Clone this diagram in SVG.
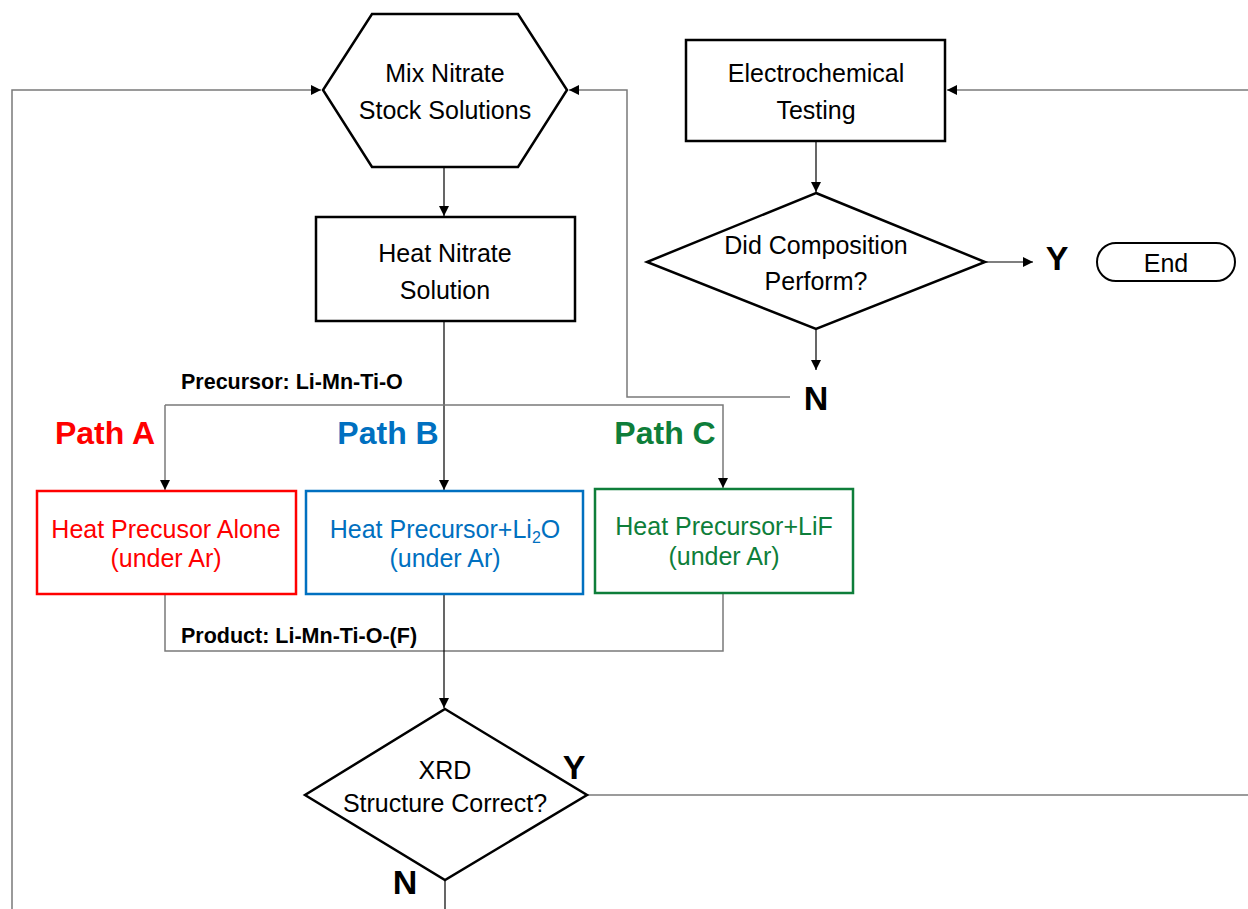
<svg xmlns="http://www.w3.org/2000/svg" width="1248" height="909" viewBox="0 0 1248 909">
<style>
text{font-family:"Liberation Sans",Arial,sans-serif;text-anchor:middle}
.t{font-size:25px;fill:#000}
.shape{fill:#fff;stroke:#000;stroke-width:2.5}
.lbl{font-size:21.5px;font-weight:bold;text-anchor:start}
.path{font-size:32px;font-weight:bold}
.yn{font-size:34px;font-weight:bold}
.c{fill:none;stroke:#000;stroke-width:1.2}
.g{fill:none;stroke:#7a7a7a;stroke-width:1.5}
</style>
<defs>
<marker id="ah" viewBox="0 0 10 10" refX="10" refY="5" markerWidth="10" markerHeight="10" markerUnits="userSpaceOnUse" orient="auto">
<path d="M0,0 L10,5 L0,10 Z" fill="#000"/>
</marker>
</defs>
<g id="connectors">
<polyline class="g" points="12,909 12,90 321,90" marker-end="url(#ah)"/>
<polyline class="g" points="790,397 627,397 627,90 569,90" marker-end="url(#ah)"/>
<line class="c" x1="444" y1="167" x2="444" y2="216" marker-end="url(#ah)"/>
<line class="c" x1="444" y1="321" x2="444" y2="490" marker-end="url(#ah)"/>
<polyline class="g" points="165,405 723,405 723,488" marker-end="url(#ah)"/>
<line class="g" x1="165" y1="405" x2="165" y2="490" marker-end="url(#ah)"/>
<polyline class="g" points="165,594 165,651 723,651 723,593"/>
<line class="c" x1="444" y1="594" x2="444" y2="708" marker-end="url(#ah)"/>
<line class="g" x1="587" y1="795" x2="1248" y2="795"/>
<line class="c" x1="445" y1="880" x2="445" y2="909"/>
<line class="g" x1="1248" y1="90" x2="947" y2="90" marker-end="url(#ah)"/>
<line class="c" x1="816" y1="141" x2="816" y2="192" marker-end="url(#ah)"/>
<line class="c" x1="985" y1="262" x2="1033" y2="262" marker-end="url(#ah)"/>
<line class="c" x1="816" y1="329" x2="816" y2="370" marker-end="url(#ah)"/>
<text class="lbl" x="181" y="389">Precursor: Li-Mn-Ti-O</text>
<text class="lbl" x="181" y="643">Product: Li-Mn-Ti-O-(F)</text>
</g>
<g id="mix">
<polygon class="shape" points="372,14 518,14 567,90 518,167 372,167 323,90"/>
<text class="t" x="445" y="82">Mix Nitrate</text>
<text class="t" x="445" y="119">Stock Solutions</text>
</g>
<g id="heat-nitrate">
<rect class="shape" x="316" y="217" width="259" height="104"/>
<text class="t" x="445" y="262">Heat Nitrate</text>
<text class="t" x="445" y="299">Solution</text>
</g>
<g id="electro">
<rect class="shape" x="686" y="40" width="259" height="101"/>
<text class="t" x="816" y="82">Electrochemical</text>
<text class="t" x="816" y="119">Testing</text>
</g>
<g id="perform">
<polygon class="shape" points="816,193 985,262 816,329 647,262"/>
<text class="t" x="816" y="254">Did Composition</text>
<text class="t" x="816" y="290">Perform?</text>
</g>
<g id="perform-y">
<text class="yn" x="1057" y="270">Y</text>
</g>
<g id="end">
<rect class="shape" x="1097" y="243" width="138" height="38" rx="19" ry="19" style="stroke-width:2"/>
<text class="t" x="1166" y="272">End</text>
</g>
<g id="perform-n">
<text class="yn" x="816" y="410">N</text>
</g>
<g id="path-labels">
<text class="path" x="105" y="444" fill="#ff0000">Path A</text>
<text class="path" x="388" y="444" fill="#0070c0">Path B</text>
<text class="path" x="665" y="444" fill="#0e7e3a">Path C</text>
</g>
<g id="path-a">
<rect x="37" y="491" width="259" height="103" fill="#fff" stroke="#ff0000" stroke-width="2.5"/>
<text class="t" x="166" y="538" style="fill:#ff0000">Heat Precusor Alone</text>
<text class="t" x="166" y="567" style="fill:#ff0000">(under Ar)</text>
</g>
<g id="path-b">
<rect x="306" y="491" width="277" height="103" fill="#fff" stroke="#0070c0" stroke-width="2.5"/>
<text class="t" x="445" y="538" style="fill:#0070c0">Heat Precursor+Li<tspan font-size="16" dy="5">2</tspan><tspan dy="-5">O</tspan></text>
<text class="t" x="445" y="567" style="fill:#0070c0">(under Ar)</text>
</g>
<g id="path-c">
<rect x="595" y="489" width="258" height="104" fill="#fff" stroke="#0e7e3a" stroke-width="2.5"/>
<text class="t" x="724" y="535" style="fill:#0e7e3a">Heat Precursor+LiF</text>
<text class="t" x="724" y="565" style="fill:#0e7e3a">(under Ar)</text>
</g>
<g id="xrd">
<polygon class="shape" points="445,709 587,795 445,880 305,795"/>
<text class="t" x="445" y="779">XRD</text>
<text class="t" x="445" y="812">Structure Correct?</text>
</g>
<g id="xrd-y">
<text class="yn" x="574" y="779">Y</text>
</g>
<g id="xrd-n">
<text class="yn" x="405" y="894">N</text>
</g>
</svg>
